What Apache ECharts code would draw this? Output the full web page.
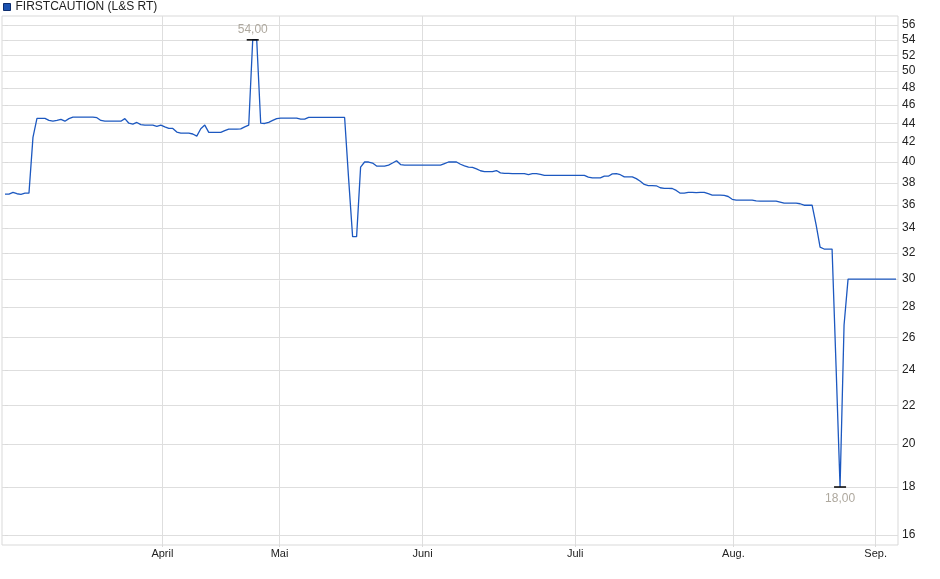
<!DOCTYPE html>
<html>
<head>
<meta charset="utf-8">
<script src="https://cdn.jsdelivr.net/npm/echarts@6/dist/echarts.min.js"></script>
<style>
html,body{margin:0;padding:0;background:#fff;}
#chart{width:940px;height:579px;}
</style>
</head>
<body>
<div id="chart"></div>
<script>
// Price series (one value per plotted point, left to right)
var prices = [
  36.97, 36.97, 37.12, 37.0, 36.95, 37.05, 37.06, 42.5, 44.52, 44.52,
  44.52, 44.3, 44.22, 44.3, 44.41, 44.22, 44.5, 44.67, 44.67, 44.67,
  44.67, 44.67, 44.67, 44.6, 44.3, 44.22, 44.22, 44.22, 44.22, 44.22,
  44.5, 44.0, 43.9, 44.08, 43.85, 43.79, 43.79, 43.79, 43.65, 43.79,
  43.6, 43.44, 43.44, 43.05, 42.95, 42.95, 42.95, 42.85, 42.63, 43.4,
  43.8, 43.02, 43.02, 43.02, 43.02, 43.2, 43.37, 43.37, 43.37, 43.4,
  43.6, 43.79, 54, 54, 44.0, 43.97, 44.1, 44.3, 44.5, 44.56,
  44.56, 44.56, 44.56, 44.56, 44.44, 44.44, 44.63, 44.63, 44.63, 44.63,
  44.63, 44.63, 44.63, 44.63, 44.63, 44.63, 38.4, 33.3, 33.3, 39.5,
  40.0, 40.0, 39.9, 39.6, 39.6, 39.6, 39.7, 39.9, 40.13, 39.75,
  39.7, 39.7, 39.7, 39.7, 39.7, 39.7, 39.7, 39.7, 39.7, 39.7,
  39.85, 40.0, 40.0, 40.0, 39.78, 39.63, 39.5, 39.47, 39.33, 39.15,
  39.07, 39.07, 39.07, 39.17, 38.95, 38.9, 38.9, 38.87, 38.87, 38.87,
  38.87, 38.78, 38.87, 38.87, 38.8, 38.7, 38.7, 38.7, 38.7, 38.7,
  38.7, 38.7, 38.7, 38.7, 38.7, 38.7, 38.55, 38.47, 38.47, 38.47,
  38.63, 38.63, 38.85, 38.87, 38.77, 38.57, 38.57, 38.57, 38.4, 38.15,
  37.85, 37.75, 37.75, 37.73, 37.55, 37.5, 37.5, 37.48, 37.3, 37.05,
  37.06, 37.12, 37.12, 37.1, 37.12, 37.12, 37.0, 36.88, 36.88, 36.88,
  36.85, 36.75, 36.5, 36.43, 36.43, 36.43, 36.43, 36.43, 36.36, 36.34,
  36.34, 36.34, 36.34, 36.34, 36.25, 36.15, 36.15, 36.15, 36.15, 36.1,
  35.97, 35.97, 35.97, 34.3, 32.45, 32.3, 32.3, 32.3, 24.2, 18,
  26.8, 30, 30, 30, 30, 30, 30, 30, 30, 30,
  30, 30, 30, 30
];

// Month boundaries (position in point index) and their labels
var monthLabels = ['April', 'Mai', 'Juni', 'Juli', 'Aug.', 'Sep.'];
var monthPos = [39.4, 68.7, 104.5, 142.7, 182.3, 217.9];

// Y tick labels (log scale)
var yTicks = [16, 18, 20, 22, 24, 26, 28, 30, 32, 34, 36, 38, 40, 42, 44, 46, 48, 50, 52, 54, 56];
var yRange = [15.61, 57.26];
var xRange = [-0.75, 223.5];

var seriesName = 'FIRSTCAUTION (L&S RT)';

var chart = echarts.init(document.getElementById('chart'), null, {renderer: 'canvas'});

var lineData = prices.map(function (v, i) { return [i, Math.log(v)]; });
var yTickLog = yTicks.map(function (v) { return Math.log(v); });

function fmtPrice(v) {
  return Math.exp(v).toFixed(2).replace('.', ',');
}

var font = '"Liberation Sans", Arial, sans-serif';

chart.setOption({
  animation: false,
  backgroundColor: '#fff',
  textStyle: {fontFamily: font},
  legend: {
    left: 3,
    top: 1,
    padding: 0,
    itemWidth: 7,
    itemHeight: 7,
    icon: 'rect',
    itemGap: 10,
    textStyle: {fontSize: 12, color: '#222', fontFamily: font, padding: [1, 0, 0, 0]},
    data: [{name: seriesName, itemStyle: {color: '#1b52b0', borderColor: '#0d2d6e', borderWidth: 1}}]
  },
  grid: {
    left: 2,
    right: 42,
    top: 16,
    bottom: 34,
    show: true,
    borderColor: '#d9d9d9',
    borderWidth: 1,
    backgroundColor: '#fff'
  },
  xAxis: {
    type: 'value',
    min: xRange[0],
    max: xRange[1],
    axisLine: {show: false},
    axisTick: {show: true, length: 2, lineStyle: {color: '#d9d9d9'}, customValues: monthPos},
    splitLine: {show: true, lineStyle: {color: '#dedede', width: 1}},
    axisLabel: {
      customValues: monthPos,
      margin: 3,
      fontSize: 11,
      color: '#222',
      fontFamily: font,
      formatter: function (v) {
        var best = 0, d = 1e9;
        for (var k = 0; k < monthPos.length; k++) {
          var dd = Math.abs(monthPos[k] - v);
          if (dd < d) { d = dd; best = k; }
        }
        return monthLabels[best];
      }
    }
  },
  yAxis: {
    type: 'value',
    position: 'right',
    min: Math.log(yRange[0]),
    max: Math.log(yRange[1]),
    axisLine: {show: false},
    axisTick: {show: true, length: 3, lineStyle: {color: '#d9d9d9'}, customValues: yTickLog},
    splitLine: {show: true, lineStyle: {color: '#dedede', width: 1}},
    axisLabel: {
      customValues: yTickLog,
      margin: 4,
      fontSize: 12,
      color: '#222',
      fontFamily: font,
      formatter: function (v) { return String(Math.round(Math.exp(v))); }
    }
  },
  series: [{
    name: seriesName,
    type: 'line',
    data: lineData,
    showSymbol: false,
    symbol: 'none',
    color: '#1b52b0',
    lineStyle: {color: '#1c58c0', width: 1.3},
    markPoint: {
      symbol: 'rect',
      symbolSize: [12, 1.5],
      itemStyle: {color: '#000'},
      label: {
        show: true,
        fontSize: 12,
        color: '#aea89e',
        fontFamily: font,
        formatter: function (p) { return fmtPrice(p.value); }
      },
      data: [
        {type: 'max', valueIndex: 1, label: {position: 'top', distance: 3}},
        {type: 'min', valueIndex: 1, label: {position: 'bottom', distance: 5}}
      ]
    }
  }]
});
</script>
</body>
</html>
